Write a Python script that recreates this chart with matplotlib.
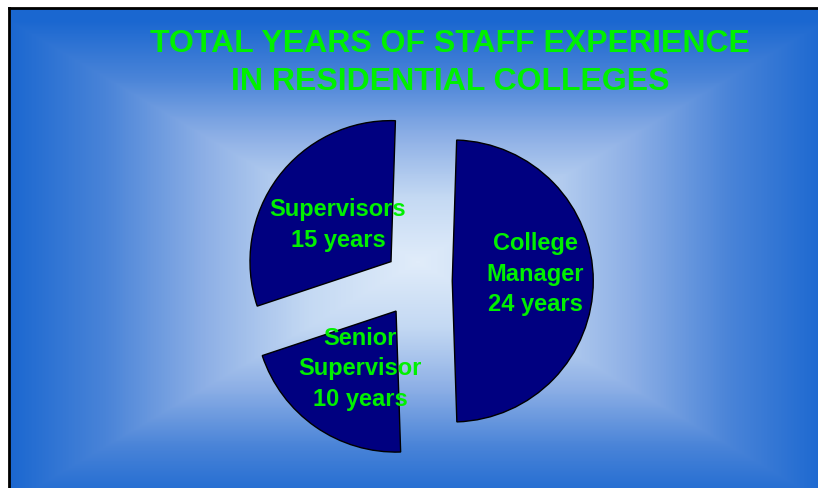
import numpy as np
import matplotlib.pyplot as plt
from matplotlib.colors import LinearSegmentedColormap

# slice data, clockwise from the top
labels = ['College\nManager\n24 years', 'Senior\nSupervisor\n10 years', 'Supervisors\n15 years']
years = [24, 10, 15]

title = 'TOTAL YEARS OF STAFF EXPERIENCE\nIN RESIDENTIAL COLLEGES'

W, H = 818, 488
fig = plt.figure(figsize=(W / 100, H / 100), dpi=100, facecolor='white')
ax = fig.add_axes([0, 0, 1, 1])

# background: rectangular gradient from the centre
xs = np.arange(9, W) + 0.5
ys = np.arange(0, H - 8) + 0.5
X, Y = np.meshgrid(xs, ys)
cx, cy = 418, 488 - 262
t = np.maximum(np.abs(X - cx) / 410.0, np.abs(Y - cy) / 242.0)
t = np.clip(t, 0, 1) ** 1.05
bg = LinearSegmentedColormap.from_list('bg', ['#e0ecfa', '#c4d9f3', '#8eb0e6', '#4a84d8', '#1a67d0'])
ax.imshow(t, cmap=bg, vmin=0, vmax=1, extent=[9, W, 0, H - 8], origin='lower',
          interpolation='bilinear', zorder=0)

# frame (left and top edges only show)
ax.plot([9, 9], [0, H - 8], color='black', lw=2, zorder=1)
ax.plot([9, W], [H - 8, H - 8], color='black', lw=2, zorder=1)

r = 141
wedges, _ = ax.pie(years, explode=[0.25 * r, 0.26 * r, 0.23 * r], startangle=88.2,
                   counterclock=False, center=(417, 488 - 281), radius=r,
                   colors=['#000080'] * 3,
                   wedgeprops=dict(edgecolor='black', linewidth=1))

txt = dict(color='#00f000', fontsize=17, fontweight='bold', ha='center', va='center',
           family=['Liberation Sans', 'DejaVu Sans'], linespacing=1.4)
ax.text(535, 488 - 274, labels[0], **txt)
ax.text(360, 488 - 369, labels[1], **txt)
ax.text(338, 488 - 225, labels[2], **txt)

ax.text(450, 488 - 63, title, color='#00f000', fontsize=23, fontweight='bold',
        ha='center', va='center', linespacing=1.32,
        family=['Liberation Sans', 'DejaVu Sans'])

ax.set_xlim(0, W)
ax.set_ylim(0, H)
ax.set_aspect('auto')
ax.axis('off')

fig.savefig('out.png', dpi=100, facecolor='white')
